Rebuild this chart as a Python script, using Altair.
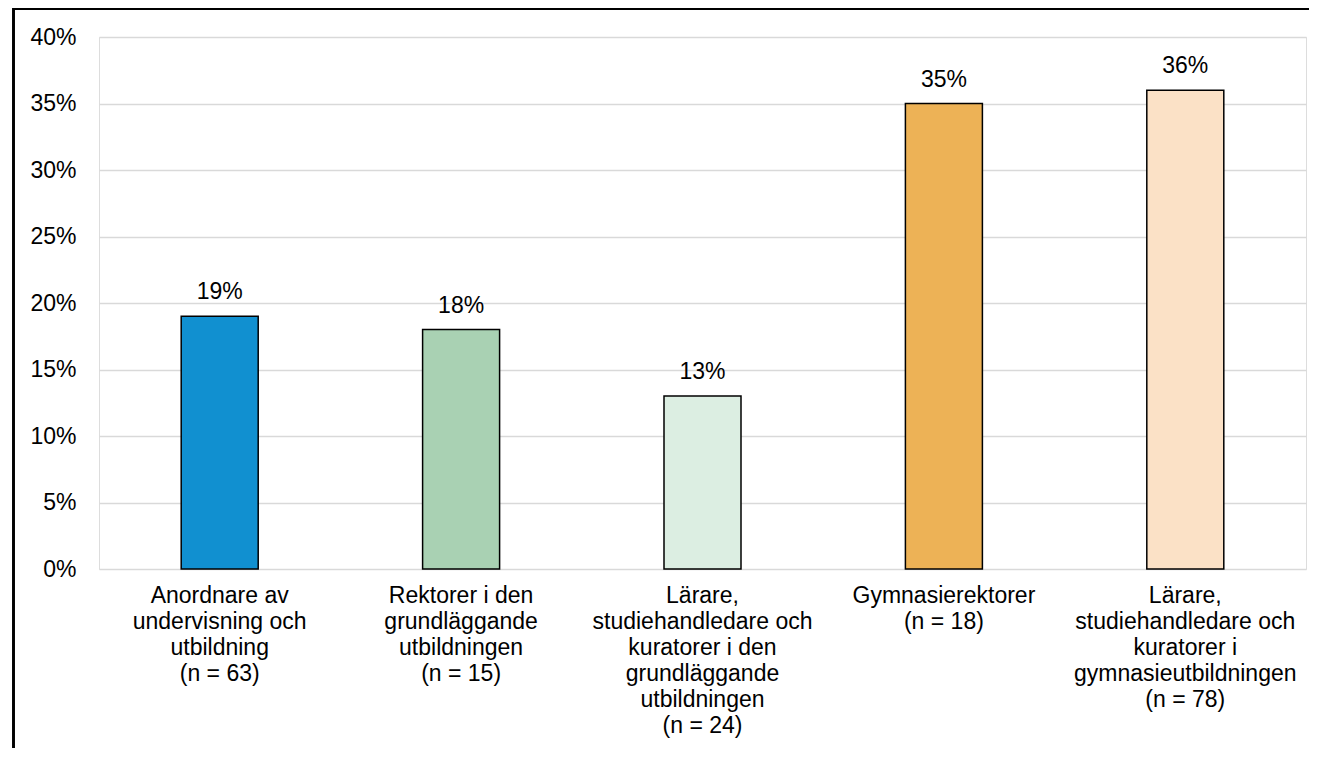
import altair as alt
import pandas as pd

categories = [
    "Anordnare av|undervisning och|utbildning|(n = 63)",
    "Rektorer i den|grundläggande|utbildningen|(n = 15)",
    "Lärare,|studiehandledare och|kuratorer i den|grundläggande|utbildningen|(n = 24)",
    "Gymnasierektorer|(n = 18)",
    "Lärare,|studiehandledare och|kuratorer i|gymnasieutbildningen|(n = 78)",
]
values = [0.19, 0.18, 0.13, 0.35, 0.36]
colors = ["#1190D0", "#A9D1B3", "#DCEEE2", "#EDB256", "#FBE1C6"]

df = pd.DataFrame({"cat": categories, "val": values, "color": colors})

FONT = "Liberation Sans"
FS = 23

x_enc = alt.X(
    "cat:N",
    sort=categories,
    title=None,
    scale=alt.Scale(paddingInner=0.68, paddingOuter=0.34),
    axis=alt.Axis(
        labelExpr="split(datum.label, '|')",
        labelAngle=0,
        labelFont=FONT,
        labelFontSize=FS,
        labelColor="#000000",
        labelLineHeight=26,
        labelLimit=500,
        labelOverlap=False,
        labelBound=False,
        labelPadding=15,
        labelBaseline="top",
        ticks=False,
        domain=False,
        grid=False,
    ),
)

y_enc = alt.Y(
    "val:Q",
    title=None,
    scale=alt.Scale(domain=[0, 0.4], nice=False),
    axis=alt.Axis(
        format=".0%",
        values=[0, 0.05, 0.1, 0.15, 0.2, 0.25, 0.3, 0.35, 0.4],
        labelFont=FONT,
        labelFontSize=FS,
        labelColor="#000000",
        labelPadding=23,
        ticks=False,
        domain=False,
        grid=True,
        gridColor="#D9D9D9",
        gridWidth=1.5,
    ),
)

bars = alt.Chart(df).mark_bar(size=77, stroke="#000000", strokeWidth=1.5).encode(
    x=x_enc,
    y=y_enc,
    color=alt.Color("color:N", scale=None, legend=None),
)

labels = alt.Chart(df).mark_text(
    font=FONT, fontSize=FS, color="#000000", baseline="alphabetic", dy=-17
).encode(
    x=alt.X("cat:N", sort=categories),
    y="val:Q",
    text=alt.Text("val:Q", format=".0%"),
)

frame_top = alt.Chart(df).mark_rule(color="#000000", strokeWidth=2).encode(
    x=alt.value(-85.5), x2=alt.value(1240), y=alt.value(-28)
)
frame_left = alt.Chart(df).mark_rule(color="#000000", strokeWidth=2).encode(
    x=alt.value(-85.5), y=alt.value(-29), y2=alt.value(800)
)

chart = (
    alt.layer(bars, labels, frame_top, frame_left)
    .properties(
        width=1207,
        height=532,
        autosize=alt.AutoSizeParams(type="none"),
        padding={"left": 91, "top": 29, "right": 3, "bottom": 179},
    )
    .configure_view(stroke="#000000", strokeWidth=1.5)
    .configure(background="#FFFFFF")
)

chart.save("out.html", embed_options={"renderer": "svg", "actions": False})
